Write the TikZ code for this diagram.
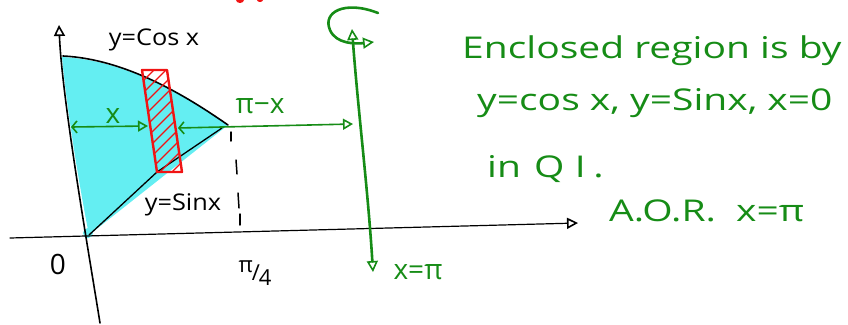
\documentclass[tikz,border=0pt]{standalone}
\usepackage{fontspec}
\setmainfont{Open Sans}
\usetikzlibrary{arrows.meta}
\definecolor{grn}{RGB}{22,140,22}
\definecolor{cyn}{RGB}{100,238,242}
\definecolor{rd}{RGB}{240,20,20}
\begin{document}
\begin{tikzpicture}[x=1pt,y=-1pt,
  ink/.style={draw=black,line width=1.6pt,line cap=round,line join=round},
  gink/.style={draw=grn,line width=2.6pt,line cap=round,line join=round},
  opentip/.style={-{Triangle[open,length=11pt,width=11pt,line width=1.6pt]}},
  twotip/.style={{Triangle[open,length=11pt,width=11pt,line width=1.6pt]}-{Triangle[open,length=11pt,width=11pt,line width=1.6pt]}},
  bothtip/.style={{Straight Barb[length=5pt,width=12pt,line width=1.6pt]}-{Triangle[open,length=10pt,width=11pt,line width=1.6pt]}},
  blab/.style={text=black,font=\fontsize{23}{25}\selectfont,inner sep=0pt},
  glab/.style={text=grn,font=\fontsize{28}{30}\selectfont,inner sep=0pt},
  gtext/.style={text=grn,font=\fontsize{30}{32}\selectfont,inner sep=0pt,anchor=base west}]
\useasboundingbox (0,0) rectangle (848,324);
% named points
\coordinate (ytop) at (59,25);
\coordinate (ybot) at (100,323);
\coordinate (xl) at (10,238);
\coordinate (xr) at (578,223);
\coordinate (tip) at (228,125);
\coordinate (orig) at (89,235);
% cyan region
\fill[cyn] (62,57) .. controls (125,60) and (185,95) .. (tip)
  -- (orig) .. controls (82,200) and (68,120) .. cycle;
\fill[cyn] (88,233) circle (5);
% curves
\draw[ink] (63,56) .. controls (125,59) and (185,95) .. (tip);
\draw[ink,line width=1.3pt] (orig) -- (157,172) -- (222,128);
% axes
\draw[ink,opentip] (ybot) .. controls (90,260) and (62,100) .. (ytop);
\draw[ink,line width=1.2pt,opentip] (xl) -- (xr);
% dashed line
\draw[ink,line width=1.5pt] (231,132) -- (231,141);
\draw[ink,line width=1.5pt] (236,160) -- (237,174);
\draw[ink,line width=1.5pt] (238,193) -- (239,208);
\draw[ink,line width=1.5pt] (240,214) -- (240,225);
% red strip
\begin{scope}
\clip (142,70) -- (167,70) -- (182,172) -- (157,172) -- cycle;
\foreach \k in {0,...,16} \draw[draw=rd,line width=1.3pt] (130,{70+\k*12}) -- (200,{\k*12});
\end{scope}
\draw[draw=rd,line width=2.4pt,line join=round] (142,70) -- (167,70) -- (182,172) -- (157,172) -- cycle;
\fill[rd] (240,0) ellipse (4 and 3);
\fill[rd] (260,0) ellipse (3 and 2);
% green horizontal arrows
\coordinate (a1) at (71,127);
\coordinate (a2) at (148,126);
\coordinate (b1) at (178,128);
\coordinate (b2) at (353,124);
\draw[gink,line width=1.6pt,bothtip] (a1) -- (a2);
\draw[gink,line width=1.6pt,bothtip] (b1) -- (b2);
% axis of rotation
\coordinate (rt) at (352,29);
\coordinate (rb) at (373,272);
\draw[gink,twotip] (rt) .. controls (358,110) and (368,190) .. (rb);
\coordinate (l0) at (378,13);
\coordinate (l1) at (374,42);
\draw[gink,opentip] (l0) .. controls (345,0) and (322,12) .. (330,30) .. controls (336,44) and (355,44) .. (l1);
% labels
\node[blab] (ycos) at (154,40) {\scalebox{1.1}[1]{y=Cos x}};
\node[blab] (ysin) at (183,205) {\scalebox{1.1}[1]{y=Sinx}};
\node[blab,font=\fontsize{28}{30}\selectfont] (zero) at (58,264) {0};
\node[blab,font=\fontsize{22}{24}\selectfont,anchor=base] (pi4) at (255,280) {\raisebox{8pt}{π}\kern-1pt/\kern-1pt\raisebox{-5pt}{4}};
\node[glab] (xlab) at (113,116) {x};
\node[glab] (pmx) at (260,106) {π−x};
\node[glab] (xpi) at (418,272) {x=π};
% right text
\node[gtext] (t1) at (462,58) {\scalebox{1.3}[1]{Enclosed region is by}};
\node[gtext] (t2) at (477,110) {\scalebox{1.3}[1]{y=cos x, y=Sinx, x=0}};
\node[gtext] (t3) at (487,177) {\scalebox{1.3}[1]{in\hspace{10pt}Q\hspace{8pt}I\hspace{6pt}.}};
\node[gtext] (t4) at (609,221) {\scalebox{1.3}[1]{A.O.R.\ \ x=π}};
\end{tikzpicture}
\end{document}
